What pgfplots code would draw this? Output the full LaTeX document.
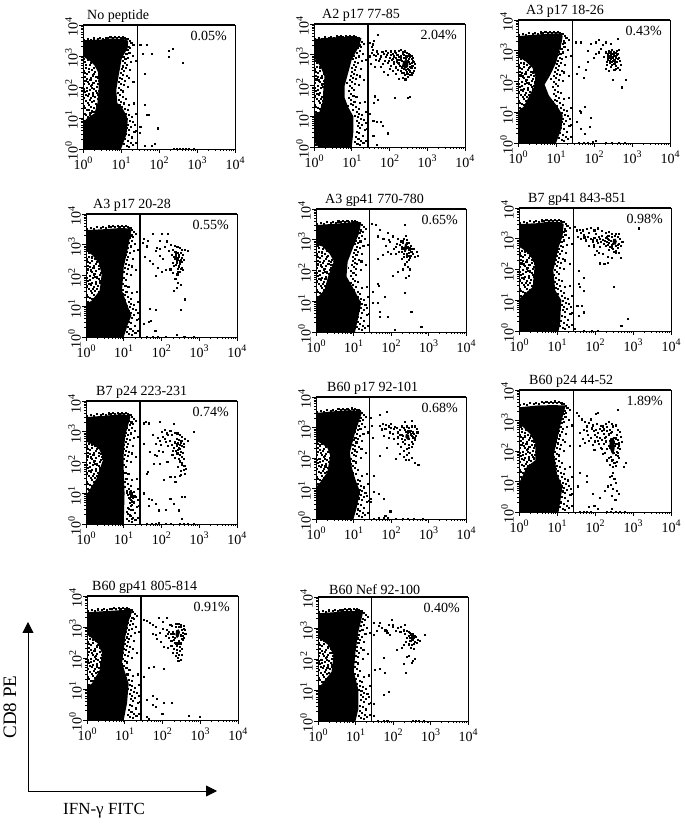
\documentclass[border=0pt]{standalone}
\usepackage{fontspec}
\setmainfont{Liberation Serif}
\usepackage{pgfplots}
\pgfplotsset{compat=1.18}
\usetikzlibrary{arrows.meta}

\newcommand\dec[1]{10\raisebox{0.42em}{\fontsize{10}{10}\selectfont #1}}

% dots shared by all panels: wedge left of the waist, band right of the population, rough top edge
\def\speck{(1.07,830)(1.62,610)(1.19,540)(2.31,470)(1.44,395)(1.03,340)(2.05,312)(2.73,288)(1.27,262)(1.78,241)(1.11,215)(2.48,198)(1.55,176)(2.12,163)(1.36,149)(2.86,137)(1.04,126)(1.71,118)(2.26,104)(1.22,97)(1.94,88)(1.48,82)(2.61,74)(1.09,69)(1.83,63)(2.38,58)(1.31,52)(2.01,48)(1.59,44)(2.79,39)(1.16,36)(1.74,33)(2.19,29)(1.41,27)(1.03,24)(1.88,22)(1.26,19)(1.65,17)(2.08,15.5)(1.13,14)(1.5,12.5)(1.34,11)(1.35,760)(1.88,690)(1.1,650)(1.52,520)(1.95,430)(1.2,420)(1.68,350)(2.42,380)(1.08,290)(1.39,305)(1.9,275)(2.6,230)(1.24,190)(1.62,205)(2.22,215)(1.42,130)(1.85,140)(2.55,155)(1.14,160)(2.4,125)(1.58,110)(1.28,75)(2.15,78)(1.7,92)(2.75,95)(1.05,85)(1.45,60)(1.18,55)(2.28,66)(1.76,54)(2.5,42)(1.52,38)(1.07,45)(1.3,32)(1.95,36)(2.3,25)(1.6,23)(1.12,21)(1.42,18)(1.85,16)(1.2,13)(1.55,15)(11.2,2600)(13.4,2300)(15.8,2050)(18.5,2700)(21,2250)(12.3,1900)(14.6,1650)(17.2,1850)(12.1,1400)(13.7,1180)(16.4,1320)(19.8,1050)(11.4,960)(12.9,820)(15.1,900)(18.1,640)(10.8,720)(12.2,610)(14.3,540)(11.1,470)(13,420)(16.9,360)(10.2,390)(11.8,330)(9.7,280)(11,250)(13.8,230)(9.3,205)(10.6,180)(12.4,165)(8.9,150)(10,130)(11.7,118)(15.2,105)(8.6,98)(9.8,84)(11.3,73)(8.4,66)(9.4,55)(10.9,48)(13.1,42)(8.5,40)(9.6,34)(11.6,30)(16.2,27)(9.2,26)(10.4,23)(12.6,20)(14.9,18)(10.7,16)(13.3,14)(15.6,12.5)(18.7,11)(12,10.5)(14.2,9.4)(16.8,8.2)(20.5,7.5)(13.6,7)(15.3,6.1)(18.2,5.4)(14.1,4.8)(16.1,4.2)(22.3,3.6)(13.2,3.2)(15.7,2.9)(19.1,2.4)(12.7,2.1)(14.8,1.9)(17.6,1.6)(11.9,1.5)(13.9,1.3)(16.3,1.2)(20.1,1.35)(24,700)(25,4)(23,6)(24,14)(24,1.6)(22,30)(21,150)(16,200)(1.05,3300)(1.3,3600)(1.6,3400)(1.9,3750)(2.4,3500)(2.8,3800)(3.3,3650)(3.9,4000)(4.5,3800)(5.2,4200)(5.9,3850)(6.8,4100)(7.6,3900)(8.8,4300)(9.9,3950)(11,4050)(12.5,3850)(13.6,3700)(15,3500)(16.5,3150)}
\def\holes{(1.1,1.2)(1.3,1.4)(1.15,1.8)(1.2,6)(1.3,2500)(1.2,1500)(1.15,1100)(1.6,1200)(2.1,1000)(3,200)(3.2,90)(9,1.5)(7,3)(1.4,3)(4,60)(5,300)(1.06,1.5)(1.08,4)(1.25,2.3)(1.5,1.15)(1.1,8)(1.9,1800)(1.4,1900)(3.6,40)(3.1,130)(2.9,30)(8.3,1.2)(9.5,4)(9.2,9)(8,22)(7.2,120)(8.6,700)(10,1600)(1.05,2100)}

\pgfplotsset{
  blob/.style={fill=black,draw=none},
  dots/.style={only marks,mark=square*,mark size=0.55pt,mark options={draw=none,fill=black}},
  logminor/.style={
    minor xtick={2,3,4,5,6,7,8,9,20,30,40,50,60,70,80,90,200,300,400,500,600,700,800,900,2000,3000,4000,5000,6000,7000,8000,9000},
    minor ytick={2,3,4,5,6,7,8,9,20,30,40,50,60,70,80,90,200,300,400,500,600,700,800,900,2000,3000,4000,5000,6000,7000,8000,9000},
  },
}

% #1 left, #2 right, #3 top, #4 bottom in pixels; #5 title offset, #6 title, #7 percentage
\newenvironment{panel}[7]{%
  \pgfmathsetmacro\w{#2-#1}\pgfmathsetmacro\h{#4-#3}\pgfmathsetmacro\yy{825-#4}%
  \begin{axis}[
    at={(#1pt,\yy pt)},anchor=south west,
    scale only axis,width=\w pt,height=\h pt,
    xmode=log,ymode=log,
    xmin=1,xmax=10000,ymin=1,ymax=10000,
    xtick={1,10,100,1000,10000},ytick={1,10,100,1000,10000},
    logminor,
    xticklabels={\dec{0},\dec{1},\dec{2},\dec{3},\dec{4}},
    yticklabels={\dec{0},\dec{1},\dec{2},\dec{3},\dec{4}},
    xtick pos=bottom,ytick pos=left,tick align=outside,
    major tick length=4pt,minor tick length=2pt,
    tick style={black,line width=0.7pt},
    axis line style={line width=0.8pt},
    ticklabel style={font=\fontsize{14}{14}\selectfont,inner sep=1pt},
    xticklabel style={yshift=-2.5pt},
    yticklabel style={rotate=90,anchor=south,xshift=-2.5pt},
    title={#6},
    title style={at={(0,1)},anchor=south west,xshift=#5pt,yshift=-3.5pt,inner sep=0pt,font=\fontsize{14}{14}\selectfont},
    extra description/.code={
      \draw[line width=2pt] (axis description cs:0,1)--(axis description cs:1,1);
      \node[anchor=east,inner sep=0pt,font=\fontsize{14}{14}\selectfont] at ([xshift=-8pt,yshift=-11pt]axis description cs:1,1) {#7};
    },
  ]
  \addplot[dots] coordinates {\speck};
}{%
  \addplot[only marks,mark=square*,mark size=0.45pt,mark options={draw=none,fill=white}] coordinates {\holes};
  \addplot[line width=1.6pt] coordinates {(27,1)(27,10000)};
  \end{axis}
}

\begin{document}
\begin{tikzpicture}[x=1pt,y=1pt]
\path[use as bounding box] (0,0) rectangle (685,825);

\begin{panel}{83}{235}{25}{149}{4}{No peptide}{0.05\%}
\addplot[blob] coordinates {(1,3200)(3,3400)(6,3700)(12,3500)(15.5,3100)(15,1800)(10.5,850)(9,300)(7.5,80)(8,30)(10,25)(14,12)(15,8)(14,3)(10,1)(1,1)(1,7)(1.3,10)(2,14)(2.4,30)(2.6,100)(2.5,300)(2,500)(1.5,700)(1.1,900)(1,1000)};
\addplot[dots] coordinates {(32,2350)(48,2350)(37,1180)(65,1180)(180,980)(180,1440)(235,1750)(425,600)(41,265)(41,27)(48,13)(53,13)(92,4.7)(32,5.3)(31,3.4)(41,1.3)(65,1.3)(75,1.5)(250,1.05)(300,1.05)(350,1.05)(420,1.05)(500,1.05)(600,1.05)(800,1.05)};
\end{panel}

\begin{panel}{314}{465}{24}{147}{8}{A2 p17 77-85}{2.04\%}
\addplot[blob] coordinates {(1,3200)(2,3500)(5,3800)(12,3800)(18,3500)(16,2000)(10,700)(8,250)(6.5,100)(6.5,40)(8,20)(11,10)(11,3)(10,1)(1.3,1)(1,1.5)(1,12)(1.4,14)(1.7,30)(1.8,100)(1.9,200)(1.5,400)(1.2,600)(1,800)};
\addplot[blob] coordinates {(215,430)(230,620)(280,680)(320,560)(310,400)(260,350)};
\addplot[dots] coordinates {(120,1100)(140,1300)(160,1000)(180,1400)(200,1500)(220,1250)(250,1300)(280,1200)(320,1100)(380,950)(420,800)(440,600)(470,500)(460,380)(430,300)(400,260)(350,220)(300,190)(260,160)(220,180)(180,170)(150,250)(120,300)(100,350)(90,220)(70,280)(110,450)(130,600)(150,800)(170,550)(190,680)(130,900)(100,800)(85,1000)(70,1100)(60,900)(50,1100)(45,1300)(38,1000)(33,1200)(30,900)(35,1500)(42,700)(55,750)(65,500)(75,650)(90,550)(32,500)(40,420)(60,400)(80,1400)(105,1300)(115,700)(145,420)(165,330)(200,300)(240,260)(280,280)(320,330)(360,380)(400,450)(420,650)(390,750)(350,850)(300,950)(340,1000)(240,1000)(200,900)(160,700)(30,2500)(36,2200)(33,1800)(50,4500)(38,2800)(41,45)(50,34)(38,28)(140,39)(310,39)(340,43)(37,7)(45,6.8)(60,6.5)(65,4.8)(92,2.8)(37,2.3)(45,1.2)(30,12)(205,640)(236,585)(268,720)(297,655)(331,590)(352,510)(388,545)(412,430)(376,370)(338,402)(302,342)(271,318)(242,352)(212,395)(188,448)(173,520)(159,610)(148,375)(131,505)(206,258)(256,232)(295,245)(352,292)(388,225)(318,725)(277,868)(232,812)(197,765)(174,870)(224,1120)(262,950)(146,1180)(123,760)(97,620)(78,860)(64,1240)(52,620)(44,940)(88,1180)(108,990)};
\end{panel}

\begin{panel}{518}{670}{20}{143}{8}{A3 p17 18-26}{0.43\%}
\addplot[blob] coordinates {(1,3000)(2.5,3300)(7,3600)(13,3700)(15,3000)(14,1800)(10,400)(7,160)(5,80)(6.5,35)(11,15)(15,8)(14,3)(10,1)(1,1)(1,11)(1.4,15)(2.6,65)(2.9,140)(2.4,280)(1.6,450)(1,650)};
\addplot[dots] coordinates {(33,1900)(45,1900)(83,1650)(112,1900)(130,2250)(200,1900)(280,1650)(420,2450)(68,1000)(112,780)(200,900)(230,800)(250,1000)(280,900)(300,1100)(330,950)(370,850)(400,1000)(450,1050)(230,600)(210,450)(260,400)(280,550)(310,480)(340,380)(380,320)(420,280)(480,250)(500,350)(450,600)(380,600)(350,700)(320,800)(300,650)(260,700)(340,520)(280,300)(200,260)(240,230)(340,250)(400,430)(300,350)(230,500)(180,650)(150,1200)(130,900)(100,600)(70,450)(60,250)(40,300)(35,180)(55,130)(170,1600)(700,115)(540,65)(316,115)(45,10)(58,15)(42,11)(35,4.8)(80,6.6)(45,2.9)(57,2)(76,3.3)(110,1.2)(40,1.05)(55,1.05)(70,1.05)(90,1.1)(200,1.05)(300,1.05)(450,1.05)(650,1.05)(242,862)(278,742)(306,618)(338,764)(362,678)(392,742)(414,566)(352,432)(296,428)(262,612)(226,688)(322,936)(258,482)(428,810)(472,486)(216,352)(372,262)};
\end{panel}

\begin{panel}{86}{237}{214}{337}{7}{A3 p17 20-28}{0.55\%}
\addplot[blob] coordinates {(1,3000)(3,3200)(8,3500)(14,3400)(16,3000)(13,830)(10,186)(9,32)(13,9.4)(16,5)(13,2.7)(10,1)(1,1)(1,12)(1.4,15)(2.3,32)(2.6,110)(2.2,250)(1.5,450)(1,650)};
\addplot[dots] coordinates {(33,1550)(31,1200)(42,1400)(59,2300)(100,2300)(145,2300)(92,1350)(140,1300)(180,1000)(220,950)(260,850)(310,800)(350,700)(420,680)(500,650)(200,700)(230,600)(270,550)(320,560)(240,450)(280,420)(220,350)(260,320)(300,300)(340,380)(380,330)(200,260)(240,220)(280,200)(310,240)(340,180)(370,150)(300,130)(260,110)(200,120)(170,160)(130,150)(100,130)(80,180)(70,100)(60,240)(50,300)(110,350)(90,450)(75,800)(40,900)(35,400)(230,80)(270,60)(320,50)(250,40)(210,33)(420,17)(325,7.7)(48,8.3)(70,7.7)(52,3.5)(45,3.1)(33,2.7)(68,1.6)(255,1.2)(40,1.05)(60,1.05)(80,1.05)(130,1.05)(400,1.05)(700,1.05)(206,412)(232,368)(254,298)(272,378)(296,252)(318,332)(246,262)(216,202)(262,172)(188,488)(158,620)(122,880)(92,760)(72,620)(238,528)(292,486)(346,272)(318,168)(272,132)(360,460)};
\end{panel}

\begin{panel}{316}{466}{209}{332}{9}{A3 gp41 770-780}{0.65\%}
\addplot[blob] coordinates {(1,3000)(3,3300)(7,3600)(13,3900)(16,3500)(14,1600)(10,600)(7,195)(6.5,64)(11,21)(16,8.7)(13,2.5)(11,1)(1,1)(1,11)(1.15,14)(1.7,24)(2.1,64)(3,200)(2.3,350)(1.5,600)(1,700)};
\addplot[blob] coordinates {(225,560)(240,760)(265,660)(268,500)(245,420)};
\addplot[dots] coordinates {(30,3400)(39,3000)(50,2100)(83,1700)(45,1300)(62,1100)(92,850)(230,3000)(110,1300)(150,1100)(180,900)(220,1100)(260,1000)(300,800)(340,650)(400,500)(480,400)(520,300)(440,280)(380,360)(340,300)(300,380)(260,340)(220,280)(190,400)(160,420)(130,350)(100,360)(80,400)(60,330)(45,240)(300,220)(260,190)(230,160)(280,130)(320,110)(200,110)(150,90)(110,70)(240,60)(300,70)(190,500)(170,700)(130,600)(350,500)(320,550)(200,800)(230,19)(345,4.5)(640,1.5)(33,8.7)(45,8.7)(50,4.7)(50,3.2)(83,3.2)(125,1.2)(33,21)(45,36)(47,33)(68,14)(196,612)(214,532)(236,438)(258,602)(282,572)(306,476)(328,412)(262,286)(218,352)(288,312)(362,422)(198,248)(142,742)(118,520)(88,1020)(74,640)(244,1310)(268,772)(204,960)(318,262)};
\end{panel}

\begin{panel}{519}{671}{208}{331}{9}{B7 gp41 843-851}{0.98\%}
\addplot[blob] coordinates {(1,3000)(3,3200)(6,3600)(12,3500)(15,3000)(14,1200)(11,530)(8,93)(9,21)(13,10)(12,1.7)(11,1)(1,1)(1,11)(1.4,16)(2.3,27)(2.6,150)(2,280)(1.3,450)(1,550)};
\addplot[blob] coordinates {(290,780)(300,980)(350,1000)(375,820)(350,640)(310,650)};
\addplot[dots] coordinates {(30,2500)(33,1900)(40,2000)(48,1900)(60,2100)(75,2300)(95,1900)(120,2200)(150,1800)(190,1600)(230,1700)(280,1500)(350,1500)(430,1450)(1380,2200)(35,1200)(42,1000)(50,1300)(58,900)(65,1200)(75,1000)(85,800)(95,1100)(110,900)(125,1200)(140,800)(160,950)(170,700)(190,600)(220,650)(250,550)(300,480)(350,420)(420,350)(480,600)(520,800)(440,1000)(400,500)(280,650)(230,750)(130,550)(110,420)(90,550)(70,600)(100,300)(125,350)(160,330)(220,260)(280,250)(480,240)(210,170)(175,150)(130,160)(710,2.5)(490,1.5)(316,27)(37,93)(50,54)(37,34)(40,28)(50,21)(34,6.8)(45,6.8)(37,3.2)(50,4.1)(30,1.2)(50,1.05)(80,1.05)(120,1.05)(232,962)(258,852)(276,1180)(298,692)(322,1220)(402,1130)(428,702)(392,632)(346,602)(274,532)(206,782)(182,892)(154,1240)(132,1020)(102,1480)(88,940)(68,1560)(52,1120)(42,1540)(116,722)(92,642)(226,452)(308,392)(356,342)(205,1120)(222,1240)(190,1060)(214,990)};
\end{panel}

\begin{panel}{86}{237}{401}{524}{10}{B7 p24 223-231}{0.74\%}
\addplot[blob] coordinates {(1,3000)(3,3300)(8,3700)(14,3500)(15,3000)(11,770)(10,220)(10,50)(10.5,10)(10,1)(1,1)(1,9)(1.15,11)(1.9,30)(2.9,135)(2.2,280)(1.4,400)(1,480)};
\addplot[dots] coordinates {(700,1000)(210,1800)(92,2100)(45,1900)(33,1900)(38,2100)(100,1000)(120,1200)(140,900)(170,1100)(190,800)(220,950)(260,900)(300,800)(350,700)(420,600)(500,500)(330,520)(290,560)(250,600)(220,450)(260,420)(300,380)(340,350)(380,400)(280,300)(240,250)(200,240)(260,200)(300,180)(340,150)(380,130)(300,110)(340,95)(400,80)(440,65)(380,60)(320,55)(110,700)(90,500)(70,400)(130,480)(150,350)(110,220)(85,250)(65,180)(50,220)(33,400)(75,170)(62,93)(92,93)(41,44)(43,50)(115,27)(170,35)(230,24)(315,39)(420,44)(33,10)(45,6.8)(55,6)(45,4)(70,4.5)(83,2.8)(130,3)(280,2.8)(345,7.7)(420,7.7)(210,4.7)(345,1.5)(170,6.5)(40,1.05)(55,1.05)(70,1.05)(85,1.1)(130,1.05)(180,1.05)(300,1.05)(380,1.05)(500,1.05)(700,1.05)(228,482)(248,356)(272,442)(296,286)(318,438)(348,502)(392,318)(268,258)(214,296)(186,392)(164,502)(146,816)(122,612)(96,386)(78,620)(58,820)(284,132)(316,228)(262,72)(372,208)(218,142)(192,176)(142,108)(352,82)(228,34)(296,36)};
\addplot[dots] coordinates {(13,9)(15,8)(17,7)(14,6.5)(16,5.5)(18,5)(15,4)(13,3.5)(17,3)(12,2.5)(14,2)(16,1.5)(12,12)(14,11)(16,10)(19,8)};
\end{panel}

\begin{panel}{316}{466}{397}{519}{11}{B60 p17 92-101}{0.68\%}
\addplot[blob] coordinates {(1,3000)(3,3400)(8,3700)(14,3500)(17,3200)(11,680)(8,150)(9,50)(11,21)(15,7.7)(12,2.2)(10,1)(1,1)(1,11)(1.3,16)(2,34)(2.4,120)(2,220)(1.4,300)(1,360)};
\addplot[blob] coordinates {(240,480)(250,620)(300,580)(310,470)(280,390)};
\addplot[dots] coordinates {(76,3400)(49,2700)(28,2100)(31,1150)(51,1150)(33,450)(51,120)(76,220)(440,69)(530,60)(350,1700)(235,1600)(60,1300)(70,900)(85,1100)(100,1300)(120,900)(140,1000)(170,850)(190,1100)(220,1000)(260,1100)(300,1000)(350,1100)(420,1100)(480,900)(500,700)(450,550)(420,400)(380,300)(350,240)(300,220)(260,200)(220,170)(180,240)(150,300)(120,430)(85,450)(65,550)(90,700)(110,620)(150,700)(190,600)(380,700)(340,800)(380,480)(200,350)(300,150)(260,130)(220,110)(250,90)(300,85)(350,100)(170,140)(130,95)(34,27)(34,7.7)(46,6.8)(63,4.7)(28,4.7)(29,3.8)(95,1.8)(70,1.3)(35,1.05)(46,1.1)(63,1.1)(80,1.1)(130,1.05)(200,1.05)(280,1.05)(400,1.05)(700,1.05)(208,528)(226,402)(246,736)(272,812)(298,428)(318,756)(342,604)(366,532)(402,616)(428,472)(352,348)(304,276)(238,298)(198,442)(172,588)(128,1060)(96,980)(72,1240)(58,880)(148,482)(284,682)(232,862)};
\end{panel}

\begin{panel}{519}{671}{390}{512}{10}{B60 p24 44-52}{1.89\%}
\addplot[blob] coordinates {(1,2700)(3,3100)(8,3200)(17,3100)(12.5,770)(8.3,81)(10,18)(14,6.8)(11,1)(1,1)(1,10)(1.1,11)(1.6,30)(2.7,50)(2.7,174)(2,350)(1.3,600)(1,770)};
\addplot[blob] coordinates {(240,170)(250,260)(300,270)(330,210)(330,120)(300,75)(270,90)(250,115)};
\addplot[dots] coordinates {(400,2200)(117,1850)(105,1700)(33,1800)(38,1400)(45,1100)(55,900)(70,850)(60,650)(85,700)(75,1100)(50,500)(40,400)(65,350)(90,450)(105,500)(120,400)(135,550)(160,650)(190,800)(230,900)(270,800)(300,650)(350,700)(400,500)(450,420)(480,300)(500,200)(440,120)(420,180)(400,90)(430,60)(380,45)(320,40)(270,50)(230,60)(180,90)(150,120)(125,170)(100,210)(85,160)(70,220)(55,190)(40,150)(110,300)(150,240)(170,170)(190,300)(170,380)(200,450)(240,500)(280,420)(370,350)(150,450)(130,280)(95,110)(650,40)(560,30)(300,20)(270,15)(320,12)(350,9)(260,8)(300,6)(380,5)(430,4)(280,3.5)(340,2.5)(240,14)(210,7)(180,5)(130,3)(85,4)(60,10)(60,15)(40,20)(35,7)(95,1.6)(70,1.5)(40,1.05)(50,1.05)(60,1.05)(75,1.05)(120,1.3)(200,1.05)(260,1.05)(350,1.05)(450,1.05)(600,1.05)(280,1.3)(248,212)(262,168)(282,238)(318,194)(338,152)(362,176)(388,132)(372,96)(345,74)(318,88)(296,52)(262,66)(244,128)(226,148)(208,118)(192,210)(176,276)(226,356)(262,402)(318,278)(356,262)(402,232)(428,148)(396,68)(352,34)(288,30)(250,36)(205,50)(158,84)(138,132)(118,224)(96,340)(78,280)(62,460)(84,560)(48,260)(142,680)(112,760)(205,620)(172,520)};
\end{panel}

\begin{panel}{87}{238}{596}{720}{5}{B60 gp41 805-814}{0.91\%}
\addplot[blob] coordinates {(1,3000)(3,3250)(8,3500)(14,3600)(15.6,3100)(12.7,1550)(10.4,500)(8.5,69)(12.7,15)(11.5,3.5)(9.4,1)(1,1)(1,12)(1.35,15)(2.2,42)(2.5,145)(1.9,300)(1.3,450)(1,570)};
\addplot[blob] coordinates {(220,560)(230,780)(270,840)(290,680)(270,500)(240,430)};
\addplot[dots] coordinates {(32,1750)(38,1600)(45,1350)(55,1150)(65,1000)(80,2000)(132,2000)(100,1500)(160,1200)(180,1100)(220,1300)(260,1300)(310,1200)(370,1100)(390,800)(400,600)(370,450)(340,380)(310,300)(270,300)(230,300)(180,350)(150,450)(170,600)(130,800)(100,900)(85,650)(65,550)(55,600)(70,420)(90,330)(110,230)(140,210)(170,250)(200,200)(240,190)(280,170)(330,200)(220,120)(250,100)(300,90)(260,80)(330,130)(190,700)(150,700)(340,650)(310,520)(200,380)(43,48)(59,53)(108,45)(32,25)(39,4.5)(56,6)(72,5)(108,3.7)(180,3.7)(55,3.1)(65,2.7)(98,1.6)(495,1.4)(960,1.3)(43,1.1)(38,1.3)(196,612)(214,462)(302,542)(318,792)(328,412)(276,366)(206,302)(242,252)(292,226)(184,478)(162,362)(122,532)(138,612)(352,528)(366,872)(274,1040)(218,1012)(308,1010)(238,148)(186,144)(268,132)};
\end{panel}

\begin{panel}{318}{468}{597}{721}{11}{B60 Nef 92-100}{0.40\%}
\addplot[blob] coordinates {(1,3000)(2.5,3200)(5,3600)(13,3600)(16,3300)(12,770)(10,174)(9,39)(12,10)(12,2.5)(10,1)(1,1)(1,11)(1.4,18)(2.3,39)(2.6,135)(1.9,280)(1.3,400)(1,470)};
\addplot[dots] coordinates {(30,1440)(41,1200)(30,600)(92,1850)(210,1300)(710,600)(75,1300)(50,1000)(62,850)(70,700)(80,600)(100,1100)(130,1000)(160,1100)(190,850)(230,800)(260,750)(290,650)(320,620)(340,550)(310,470)(330,420)(300,400)(280,500)(360,480)(400,520)(450,430)(510,380)(420,330)(350,320)(310,280)(260,300)(220,360)(190,280)(170,230)(300,600)(280,700)(320,520)(125,195)(230,120)(380,105)(190,72)(315,78)(340,90)(260,130)(55,110)(45,50)(60,36)(33,46)(220,36)(55,7)(75,9)(30,3.7)(30,1.5)(40,1.05)(55,1.05)(70,1.05)(330,1.05)(400,1.05)(480,1.05)(650,1.05)(262,562)(288,392)(342,672)(372,562)(238,488)(206,672)(156,740)(118,820)(96,1280)(372,372)(292,238)(352,208)(66,820)(44,1480)(36,820)};
\end{panel}

% CD8 / IFN-gamma axes arrows
\draw[line width=0.8pt,-{Triangle[length=11pt,width=11pt]}] (28,34)--(28,203);
\draw[line width=0.8pt,-{Triangle[length=11pt,width=11pt]}] (28,34)--(217,34);
\node[rotate=90,font=\fontsize{19}{19}\selectfont,inner sep=0pt] at (10,118) {CD8 PE};
\node[anchor=west,font=\fontsize{17}{17}\selectfont,inner sep=0pt] at (63,14) {IFN-γ FITC};
\end{tikzpicture}
\end{document}
